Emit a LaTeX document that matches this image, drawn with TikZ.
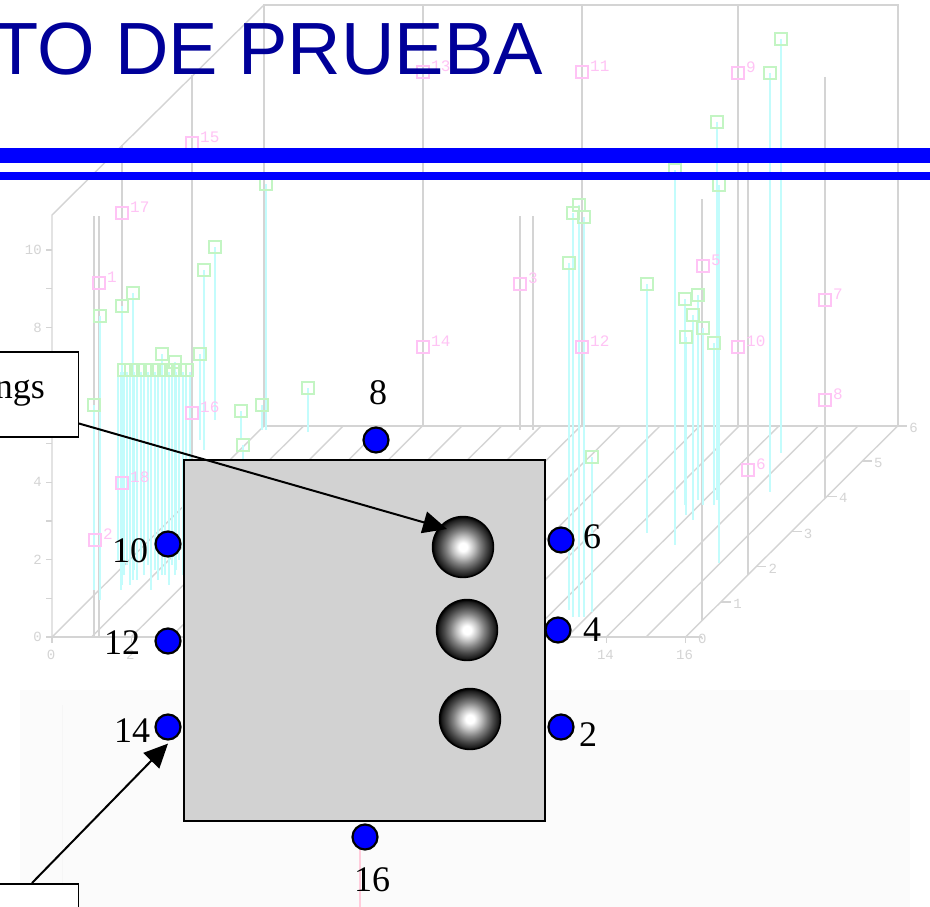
\documentclass[tikz,border=0pt]{standalone}
\usepackage{fontspec}
\setmainfont{Liberation Serif}
\newfontfamily\titlefont{Liberation Sans}
\newfontfamily\plotfont{Liberation Mono}
\usetikzlibrary{arrows.meta}
\definecolor{titleblue}{RGB}{0,0,153}
\definecolor{barblue}{RGB}{0,0,255}
\definecolor{axgray}{RGB}{212,212,212}
\definecolor{stemcyan}{RGB}{195,252,252}
\definecolor{sqgreen}{RGB}{195,245,195}
\definecolor{sqpink}{RGB}{255,195,245}
\definecolor{faintpink}{RGB}{255,205,220}
\pgfdeclareradialshading{sphshade}{\pgfpointorigin}{color(0bp)=(white); color(3.5bp)=(white); color(9bp)=(black!25); color(14bp)=(black!50); color(19bp)=(black!72); color(23bp)=(black!88); color(25bp)=(black); color(50bp)=(black)}
\begin{document}
\begin{tikzpicture}[x=1pt,y=-1pt,
  axis/.style={draw=axgray,line width=1.4pt},
  stem/.style={draw=stemcyan,line width=1.5pt},
  gsq/.style={draw=sqgreen,line width=1.4pt},
  psq/.style={draw=sqpink,line width=1.4pt},
  plab/.style={text=sqpink,font=\plotfont\fontsize{16}{16}\selectfont,inner sep=0pt},
  glab/.style={text=axgray,font=\plotfont\fontsize{14}{14}\selectfont,inner sep=0pt},
  plate/.style={draw=black,line width=2.4pt,fill=gray!35,minimum width=361pt,minimum height=361pt,inner sep=0pt},
  sphere/.style={circle,draw=black,line width=1.4pt,shading=sphshade,minimum size=61pt,inner sep=0pt},
  dot/.style={circle,draw=black,line width=2.2pt,fill=barblue,minimum size=25pt,inner sep=0pt},
  lab/.style={font=\fontsize{36}{36}\selectfont,inner sep=0pt},
  cbox/.style={draw=black,line width=1.5pt,fill=white,inner sep=0pt},
  arr/.style={-{Triangle[length=24pt,width=22pt]},line width=2pt,draw=black}]
\useasboundingbox (0,0) rectangle (930,907);
\fill[white] (0,0) rectangle (930,907);

% ---- faint lower panel ----
\fill[gray!3] (20,690) rectangle (910,907);
\draw[gray!7,line width=1pt] (62,705) -- (62,907);
\draw[faintpink,line width=2pt] (360,850) -- (360,907);

% ---- background 3D plot ----
\draw[axis] (264,426) -- (264,5) -- (898,5) -- (898,426);
\foreach \x in {423,582,738} \draw[axis] (\x,5) -- (\x,426);
\draw[axis] (264,426) -- (898,426);
\draw[axis] (52,637) -- (52,215) -- (264,5);
\draw[axis] (122,145) -- (122,567);
\draw[axis] (192,75) -- (192,497);
\draw[axis] (702,199) -- (702,621);
\draw[axis] (748,153) -- (748,575);
\draw[axis] (825,77) -- (825,498);
\draw[axis] (94,216) -- (94,637);
\draw[axis] (99,216) -- (99,637);
\draw[axis] (520,216) -- (520,430);
\draw[axis] (533,216) -- (533,430);
\draw[axis] (52,637) -- (702,637);
\foreach \i in {0,...,16} \draw[axis] ({52+39.6*\i},637) -- ({264+39.6*\i},426);
% z axis ticks and labels
\foreach \j in {0,...,10} \draw[axis] (46,{637-38.7*\j}) -- (52,{637-38.7*\j});
\foreach \j/\t in {0/0,2/2,4/4,6/6,8/8,10/10} \node[glab,anchor=east] (zl\j) at (42,{637-38.7*\j}) {\t};
% x axis ticks and labels
\foreach \k in {0,...,8} {
  \draw[axis] ({52+79.2*\k},637) -- ({52+79.2*\k},643);
}
\foreach \k/\t in {0/0,1/2,2/4,3/6,4/8,5/10,6/12,7/14,8/16} \node[glab] (xl\k) at ({51+79.2*\k},655) {\t};
% right axis ticks and labels
\foreach \k in {0,...,6} {
  \draw[axis] ({686+35.2*\k},{637-35.2*\k}) -- ({696+35.2*\k},{637-35.2*\k});
  \node[glab,anchor=west] (yl\k) at ({698+35.2*\k},{639-35.2*\k}) {\k};
}
% cyan stems and green squares
\foreach \x/\y/\b in {100/316/600,94/405/590,122/306/585,133/293/580,204/270/450,215/247/420,266/184/430,162/354/575,175/362/575,200/354/440,308/388/432,241/411/440,262/405/430,243/445/470,
  579/205/617,573/213/617,584/217/617,569/263/610,592/457/612,647/284/533,675/170/545,685/299/505,698/295/500,693/315/520,703/328/505,686/337/515,714/343/505,719/185/563,717/122/500,770/73/492,781/39/453}
  {\draw[stem] (\x,\y) -- (\x,\b);}
\foreach \x/\b in {118/560,121/590,124/575,127/565,130/585,134/570,137/580,141/560,144/575,148/565,151/590,155/570,158/580,162/560,165/575,169/585,172/565,176/570,179/560,183/575,186/565,190/560}
  {\draw[stem] (\x,372) -- (\x,\b);}
\foreach \x/\y/\b in {100/316/600,94/405/590,122/306/585,133/293/580,204/270/450,215/247/420,266/184/430,162/354/575,175/362/575,200/354/440,308/388/432,241/411/440,262/405/430,243/445/470,
  579/205/617,573/213/617,584/217/617,569/263/610,592/457/612,647/284/533,675/170/545,685/299/505,698/295/500,693/315/520,703/328/505,686/337/515,714/343/505,719/185/563,717/122/500,770/73/492,781/39/453}
  {\draw[gsq] (\x,\y) ++(-6,-6) rectangle ++(12,12);}
\foreach \x in {124,131,138,145,152,159,166,173,180,187}
  {\draw[gsq] (\x,370) ++(-6,-6) rectangle ++(12,12);}
% pink labelled squares
\foreach \l/\x/\y in {15/192/143,17/122/213,13/423/72,11/582/72,9/738/73,1/99/283,3/520/284,14/423/347,12/582/347,10/738/347,5/703/266,7/825/300,8/825/400,6/748/470,16/192/413,18/122/483,2/95/540}
  {\draw[psq] (\x,\y) ++(-6,-6) rectangle ++(12,12);
   \node[plab,anchor=south west] (pl\l) at ({\x+8},{\y}) {\l};}

% ---- title and bars ----
\node[font=\titlefont\fontsize{74}{74}\selectfont,text=titleblue,anchor=base west,inner sep=0pt] (title) at (-7,75) {TO DE PRUEBA};
\fill[barblue] (0,148) rectangle (930,163);
\fill[barblue] (0,172) rectangle (930,180);

% ---- plate ----
\node[plate] (plate) at (364.5,640.5) {};
\node[sphere] (s1) at (463,547) {};
\node[sphere] (s2) at (467,630) {};
\node[sphere] (s3) at (470,719) {};

% ---- measurement points ----
\node[dot] (d8) at (376,440) {};
\node[dot] (d10) at (168,544) {};
\node[dot] (d12) at (168,641) {};
\node[dot] (d14) at (168,727) {};
\node[dot] (d6) at (561,540) {};
\node[dot] (d4) at (558,630) {};
\node[dot] (d2) at (561,727) {};
\node[dot] (d16) at (365,837) {};
\node[lab] (l8) at (378,393) {8};
\node[lab] (l10) at (130,551) {10};
\node[lab] (l12) at (122,643) {12};
\node[lab] (l14) at (132,731) {14};
\node[lab] (l6) at (592,537) {6};
\node[lab] (l4) at (592,630) {4};
\node[lab] (l2) at (588,735) {2};
\node[lab] (l16) at (372,880) {16};

% ---- callouts ----
\node[cbox,minimum width=82pt,minimum height=85pt,anchor=north east] (box1) at (79,351) {};
\node[lab,anchor=base east] (t1) at (45,398) {ngs};
\node[cbox,minimum width=82pt,minimum height=40pt,anchor=north east] (box2) at (79,883) {};
\coordinate (tip1) at (447,529);
\draw[arr] ([yshift=14pt]box1.south east) -- (tip1);
\draw[arr] ([xshift=-47pt]box2.north east) -- ([yshift=-3pt]d14.south);
\end{tikzpicture}
\end{document}
